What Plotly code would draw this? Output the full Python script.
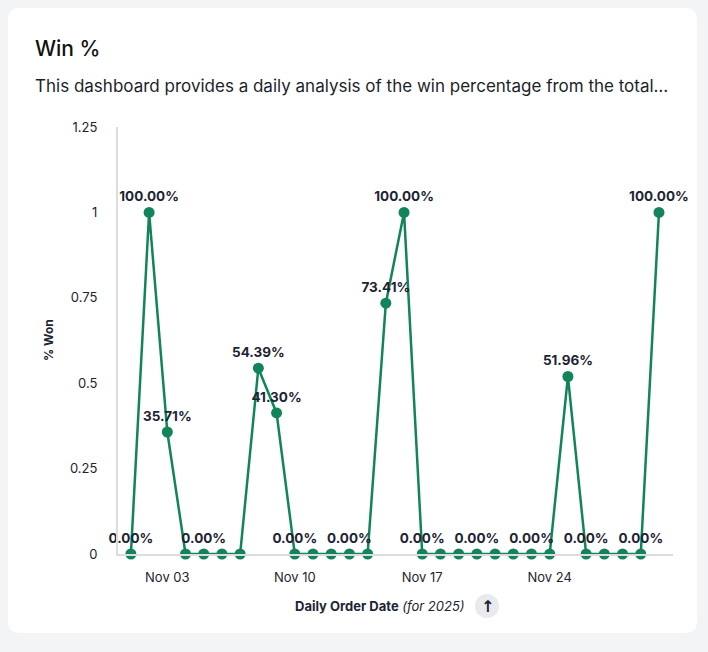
import plotly.graph_objects as go

dates = [f"2025-11-{d:02d}" for d in range(1, 31)]
win_rate = [0, 1.0, 0.3571, 0, 0, 0, 0, 0.5439, 0.4130, 0,
            0, 0, 0, 0, 0.7341, 1.0, 0, 0, 0, 0,
            0, 0, 0, 0, 0.5196, 0, 0, 0, 0, 1.0]
label_shown = [1, 1, 1, 0, 1, 0, 0, 1, 1, 1,
               0, 0, 1, 0, 1, 1, 1, 0, 0, 1,
               0, 0, 1, 0, 1, 1, 0, 0, 1, 1]
y_ticks = [0, 0.25, 0.5, 0.75, 1, 1.25]
y_tick_text = ["0", "0.25", "0.5", "0.75", "1", "1.25"]

W, H = 708, 652
L, R, T, B = 118, 35, 127, 98
PW, PH = W - L - R, H - T - B

def px(x):
    return (x - L) / PW

def py(y):
    return (H - B - y) / PH

GREEN = "#12845a"
TXT = "#1d2433"
FONT = "Inter, Roboto, sans-serif"

texts = [f"{v*100:.2f}%" if s else "" for v, s in zip(win_rate, label_shown)]

fig = go.Figure()
fig.add_trace(go.Scatter(
    x=dates, y=win_rate, mode="lines+markers+text",
    line=dict(color=GREEN, width=2.5),
    marker=dict(color=GREEN, size=11),
    text=texts, textposition="top center",
    textfont=dict(family=FONT, size=13.5, color=TXT, weight="bold"),
    cliponaxis=False, showlegend=False, hoverinfo="x+y",
))

# rounded card
x0, x1 = px(8), px(697)
y0, y1 = py(633), py(8)
rx, ry = 12 / PW, 12 / PH
path = (f"M {x0+rx},{y1} L {x1-rx},{y1} Q {x1},{y1} {x1},{y1-ry} "
        f"L {x1},{y0+ry} Q {x1},{y0} {x1-rx},{y0} L {x0+rx},{y0} "
        f"Q {x0},{y0} {x0},{y0+ry} L {x0},{y1-ry} Q {x0},{y1} {x0+rx},{y1} Z")

fig.update_layout(
    width=W, height=H,
    margin=dict(l=L, r=R, t=T, b=B),
    paper_bgcolor="#f3f4f6", plot_bgcolor="rgba(0,0,0,0)",
    font=dict(family=FONT, color=TXT),
    shapes=[
        dict(type="path", xref="paper", yref="paper", path=path,
             fillcolor="white", line=dict(width=0), layer="below"),
        dict(type="circle", xref="paper", yref="paper",
             x0=px(475), x1=px(499), y0=py(618), y1=py(594),
             fillcolor="#e8eaee", line=dict(width=0), layer="below"),
    ],
    annotations=[
        dict(text="Win %", xref="paper", yref="paper", x=px(33), y=py(48),
             xanchor="left", yanchor="middle", showarrow=False,
             font=dict(size=21, color="#111111", family=FONT, weight=500)),
        dict(text="This dashboard provides a daily analysis of the win percentage from the total…",
             xref="paper", yref="paper", x=px(33), y=py(86),
             xanchor="left", yanchor="middle", showarrow=False,
             font=dict(size=17, color="#1c1f2a", family=FONT)),
        dict(text="<b>% Won</b>", xref="paper", yref="paper", x=px(48), y=py(340),
             xanchor="center", yanchor="middle",
             textangle=-90, showarrow=False,
             font=dict(size=12, color=TXT, family=FONT)),
        dict(text="<b>Daily Order Date</b> <i>(for 2025)</i>", xref="paper", yref="paper",
             x=px(380), y=py(606), xanchor="center", yanchor="middle", showarrow=False,
             font=dict(size=13, color=TXT, family=FONT)),
        dict(text="<b>↑</b>", xref="paper", yref="paper",
             x=px(487), y=py(606), xanchor="center", yanchor="middle", showarrow=False,
             font=dict(size=16, color=TXT, family="DejaVu Sans")),
    ],
)

fig.update_xaxes(
    type="date", range=["2025-10-31 07:00", "2025-11-30 18:30"],
    tick0="2025-11-03", dtick=7 * 86400000, tickformat="%b %d",
    showgrid=False, zeroline=False, showline=True, linecolor="#dcdcdc", linewidth=2,
    ticks="", ticklabelstandoff=10,
    tickfont=dict(size=13, color=TXT, family=FONT),
)
fig.update_yaxes(
    range=[0, 1.25], tickvals=y_ticks, ticktext=y_tick_text,
    showgrid=False, zeroline=False, showline=True, linecolor="#dcdcdc", linewidth=2,
    ticks="", ticklabelstandoff=16,
    tickfont=dict(size=13, color=TXT, family=FONT),
)

fig.write_html("out.html")
